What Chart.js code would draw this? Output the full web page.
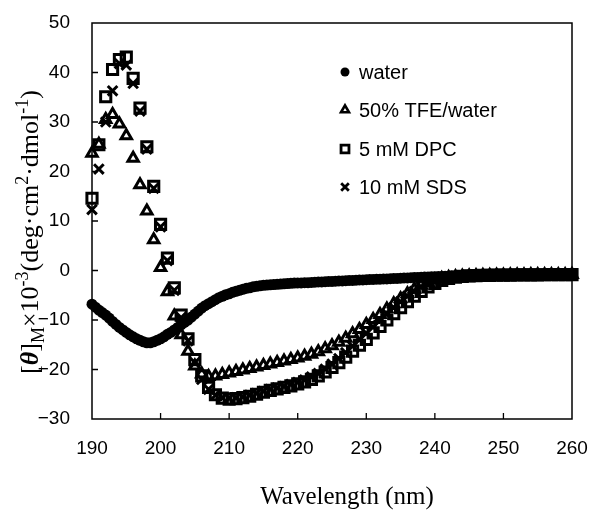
<!DOCTYPE html>
<html><head><meta charset="utf-8">
<script src="https://cdn.jsdelivr.net/npm/chart.js@4/dist/chart.umd.min.js"></script>
<style>html,body{margin:0;padding:0;background:#fff;}#wrap{width:589px;height:512px;}</style>
</head><body><div id="wrap"><canvas id="c" width="589" height="512"></canvas></div>
<script>
// ---- data ----
const WL_HALF = [190,190.5,191,191.5,192,192.5,193,193.5,194,194.5,
195,195.5,196,196.5,197,197.5,198,198.5,199,199.5,
200,200.5,201,201.5,202,202.5,203,203.5,204,204.5,
205,205.5,206,206.5,207,207.5,208,208.5,209,209.5,
210,210.5,211,211.5,212,212.5,213,213.5,214,214.5,
215,215.5,216,216.5,217,217.5,218,218.5,219,219.5,
220,220.5,221,221.5,222,222.5,223,223.5,224,224.5,
225,225.5,226,226.5,227,227.5,228,228.5,229,229.5,
230,230.5,231,231.5,232,232.5,233,233.5,234,234.5,
235,235.5,236,236.5,237,237.5,238,238.5,239,239.5,
240,240.5,241,241.5,242,242.5,243,243.5,244,244.5,
245,245.5,246,246.5,247,247.5,248,248.5,249,249.5,
250,250.5,251,251.5,252,252.5,253,253.5,254,254.5,
255,255.5,256,256.5,257,257.5,258,258.5,259,259.5,260];
const WL_ONE = [190,191,192,193,194,195,196,197,198,199,
200,201,202,203,204,205,206,207,208,209,
210,211,212,213,214,215,216,217,218,219,
220,221,222,223,224,225,226,227,228,229,
230,231,232,233,234,235,236,237,238,239,
240,241,242,243,244,245,246,247,248,249,
250,251,252,253,254,255,256,257,258,259,260];

const waterVals = [-6.8,-7.4,-8.0,-8.5,-9.0,-9.6,-10.3,-10.9,-11.5,-12.0,
-12.5,-13.0,-13.4,-13.8,-14.1,-14.4,-14.6,-14.6,-14.4,-14.1,
-13.8,-13.4,-12.9,-12.5,-12.0,-11.5,-11.0,-10.5,-10.0,-9.4,
-8.8,-8.2,-7.6,-7.1,-6.7,-6.3,-5.9,-5.5,-5.2,-4.9,
-4.7,-4.4,-4.2,-4.0,-3.8,-3.6,-3.5,-3.3,-3.2,-3.1,
-3.0,-2.95,-2.9,-2.85,-2.8,-2.75,-2.7,-2.65,-2.6,-2.55,
-2.5,-2.5,-2.45,-2.45,-2.4,-2.35,-2.3,-2.3,-2.25,-2.2,
-2.2,-2.15,-2.1,-2.1,-2.05,-2.0,-2.0,-1.95,-1.9,-1.9,
-1.85,-1.8,-1.8,-1.75,-1.75,-1.7,-1.7,-1.65,-1.6,-1.6,
-1.55,-1.5,-1.5,-1.45,-1.4,-1.4,-1.35,-1.3,-1.3,-1.25,
-1.25,-1.2,-1.2,-1.15,-1.15,-1.1,-1.1,-1.1,-1.05,-1.05,
-1.0,-1.0,-1.0,-0.98,-0.97,-0.96,-0.95,-0.95,-0.94,-0.93,
-0.92,-0.92,-0.91,-0.9,-0.9,-0.9,-0.89,-0.88,-0.88,-0.87,
-0.87,-0.86,-0.86,-0.85,-0.85,-0.85,-0.84,-0.84,-0.83,-0.83,-0.82];

const tfeVals = [23.7,25.5,30.5,31.5,29.6,27.2,22.7,17.3,12.0,6.2,
0.6,-4.3,-9.2,-13.0,-16.3,-19.3,-20.9,-21.4,-21.3,-21.0,
-20.7,-20.4,-20.1,-19.8,-19.5,-19.2,-18.9,-18.6,-18.3,-18.0,
-17.7,-17.3,-16.9,-16.4,-15.8,-15.2,-14.5,-13.7,-12.8,-11.9,
-10.9,-9.9,-8.9,-7.8,-6.7,-5.7,-4.7,-3.8,-3.0,-2.4,
-1.9,-1.6,-1.4,-1.25,-1.15,-1.1,-1.05,-1.0,-1.0,-0.95,
-0.95,-0.92,-0.9,-0.9,-0.88,-0.87,-0.86,-0.85,-0.85,-0.84,-0.83];

const dpcVals = [14.6,25.4,35.1,40.6,42.6,43.1,38.8,32.8,25.0,17.0,
9.3,2.5,-3.5,-9.0,-13.8,-18.0,-21.3,-23.6,-25.1,-25.8,
-26.0,-25.9,-25.7,-25.4,-25.0,-24.6,-24.2,-23.9,-23.6,-23.3,
-22.9,-22.5,-22.0,-21.3,-20.5,-19.6,-18.6,-17.5,-16.3,-15.1,
-13.9,-12.6,-11.3,-10.0,-8.7,-7.5,-6.3,-5.2,-4.2,-3.3,
-2.6,-2.0,-1.6,-1.35,-1.2,-1.1,-1.05,-1.0,-1.0,-0.95,
-0.95,-0.92,-0.9,-0.9,-0.88,-0.87,-0.86,-0.85,-0.85,-0.84,-0.83];

const sdsVals = [12.3,20.5,30.0,36.3,41.8,41.5,37.8,32.2,24.5,16.6,
8.8,2.0,-4.0,-9.5,-14.2,-18.6,-22.0,-24.0,-25.2,-25.7,
-25.8,-25.7,-25.5,-25.2,-24.8,-24.4,-24.0,-23.7,-23.4,-23.0,
-22.6,-22.1,-21.5,-20.8,-19.9,-18.9,-17.8,-16.6,-15.3,-14.0,
-12.7,-11.4,-10.1,-8.8,-7.5,-6.3,-5.2,-4.2,-3.3,-2.6,
-2.0,-1.6,-1.35,-1.2,-1.1,-1.05,-1.0,-1.0,-0.97,-0.95,
-0.93,-0.92,-0.9,-0.9,-0.88,-0.87,-0.86,-0.85,-0.85,-0.84,-0.83];

const seriesLabels = ['water','50% TFE/water','5 mM DPC','10 mM SDS'];
const xTicks = [190,200,210,220,230,240,250,260];
const yTicks = [-30,-20,-10,0,10,20,30,40,50];
const xTitle = 'Wavelength (nm)';

// ---- build ----
const pts = (xs, ys) => xs.map((x, i) => ({x: x, y: ys[i]}));
const SANS = "'Liberation Sans', Arial, sans-serif";
const SERIF = "'Liberation Serif', 'Times New Roman', serif";

const datasets = [
  {label: seriesLabels[0], data: pts(WL_HALF, waterVals), pointStyle: 'circle', pointRadius: 5.5,
   backgroundColor: '#000', borderColor: '#000', borderWidth: 0, legendRadius: 4.5, legendBW: 0},
  {label: seriesLabels[1], data: pts(WL_ONE, tfeVals), pointStyle: 'triangle', pointRadius: 6,
   backgroundColor: 'rgba(0,0,0,0)', borderColor: '#000', borderWidth: 3, legendRadius: 4.6, legendBW: 2.6},
  {label: seriesLabels[2], data: pts(WL_ONE, dpcVals), pointStyle: 'rect', pointRadius: 7.2,
   backgroundColor: 'rgba(0,0,0,0)', borderColor: '#000', borderWidth: 3, legendRadius: 5.6, legendBW: 2.8},
  {label: seriesLabels[3], data: pts(WL_ONE, sdsVals), pointStyle: 'crossRot', pointRadius: 6.8,
   backgroundColor: '#000', borderColor: '#000', borderWidth: 3, legendRadius: 5.4, legendBW: 2.8}
];
datasets.forEach(d => { d.showLine = false; d.clip = false; d.pointHoverRadius = d.pointRadius; });

const framePlugin = {
  id: 'frame',
  afterDraw(chart) {
    const ctx = chart.ctx, a = chart.chartArea;
    const xs = chart.scales.x, ys = chart.scales.y;
    ctx.save();
    ctx.strokeStyle = '#000';
    ctx.lineWidth = 1.5;
    ctx.strokeRect(a.left, a.top, a.right - a.left, a.bottom - a.top);
    ctx.lineWidth = 1.3;
    ctx.beginPath();
    xTicks.slice(1, -1).forEach(v => {
      const px = xs.getPixelForValue(v);
      ctx.moveTo(px, a.bottom); ctx.lineTo(px, a.bottom - 6);
    });
    yTicks.slice(1, -1).forEach(v => {
      const py = ys.getPixelForValue(v);
      ctx.moveTo(a.left, py); ctx.lineTo(a.left + 6, py);
    });
    ctx.stroke();

    // x title
    ctx.fillStyle = '#000';
    ctx.font = '25px ' + SERIF;
    ctx.textAlign = 'center';
    ctx.textBaseline = 'middle';
    ctx.fillText(xTitle, 347, 497);

    // y title with sub/superscripts
    const F = 26;
    const segs = [
      {t: '[', f: F + 'px ' + SERIF, dy: 0},
      {t: 'θ', f: 'italic bold ' + F + 'px ' + SERIF, dy: 0},
      {t: ']', f: F + 'px ' + SERIF, dy: 0},
      {t: 'M', f: Math.round(F * 0.68) + 'px ' + SERIF, dy: 0.22 * F},
      {t: '×10', f: F + 'px ' + SERIF, dy: 0},
      {t: '-3', f: Math.round(F * 0.68) + 'px ' + SERIF, dy: -0.4 * F},
      {t: '(deg·cm', f: F + 'px ' + SERIF, dy: 0},
      {t: '2', f: Math.round(F * 0.68) + 'px ' + SERIF, dy: -0.4 * F},
      {t: '·dmol', f: F + 'px ' + SERIF, dy: 0},
      {t: '-1', f: Math.round(F * 0.68) + 'px ' + SERIF, dy: -0.4 * F},
      {t: ')', f: F + 'px ' + SERIF, dy: 0}
    ];
    let total = 0;
    segs.forEach(s => { ctx.font = s.f; s.w = ctx.measureText(s.t).width; total += s.w; });
    ctx.translate(30, 232);
    ctx.rotate(-Math.PI / 2);
    ctx.textAlign = 'left';
    ctx.textBaseline = 'alphabetic';
    let cx = -total / 2;
    segs.forEach(s => { ctx.font = s.f; ctx.fillText(s.t, cx, 8 + s.dy); cx += s.w; });
    ctx.restore();

    // legend
    ctx.save();
    const ly = [72, 110, 149, 187];
    chart.data.datasets.forEach((d, i) => {
      ctx.strokeStyle = d.borderColor;
      ctx.fillStyle = d.backgroundColor;
      ctx.lineWidth = d.legendBW;
      Chart.helpers.drawPoint(ctx, {pointStyle: d.pointStyle, radius: d.legendRadius, borderWidth: d.legendBW, rotation: 0}, 345, ly[i]);
      ctx.fillStyle = '#000';
      ctx.font = '20px ' + SANS;
      ctx.textAlign = 'left';
      ctx.textBaseline = 'middle';
      ctx.fillText(d.label, 359, ly[i] + 1);
    });
    ctx.restore();
  }
};

function zeroPad(s) { s.paddingTop = 0; s.paddingBottom = 0; s.paddingLeft = 0; s.paddingRight = 0; }

new Chart(document.getElementById('c'), {
  type: 'scatter',
  data: {datasets: datasets},
  options: {
    responsive: false, animation: false, devicePixelRatio: 1,
    layout: {padding: {top: 23, right: 17, left: 0, bottom: 0}},
    plugins: {legend: {display: false}, tooltip: {enabled: false}},
    scales: {
      x: {
        type: 'linear', min: 190, max: 260,
        afterBuildTicks(s) { s.ticks = xTicks.map(v => ({value: v})); },
        ticks: {color: '#000', font: {family: SANS, size: 19}, padding: 18, maxRotation: 0, autoSkip: false},
        grid: {display: false, drawTicks: false},
        border: {display: false},
        afterFit(s) { s.height = 93; zeroPad(s); }
      },
      y: {
        type: 'linear', min: -30, max: 50,
        afterBuildTicks(s) { s.ticks = yTicks.map(v => ({value: v})); },
        ticks: {color: '#000', font: {family: SANS, size: 19}, padding: 22,
                callback: v => (v < 0 ? '\u2212' + Math.abs(v) : String(v))},
        grid: {display: false, drawTicks: false},
        border: {display: false},
        afterFit(s) { s.width = 92; zeroPad(s); }
      }
    }
  },
  plugins: [framePlugin]
});
</script></body></html>
